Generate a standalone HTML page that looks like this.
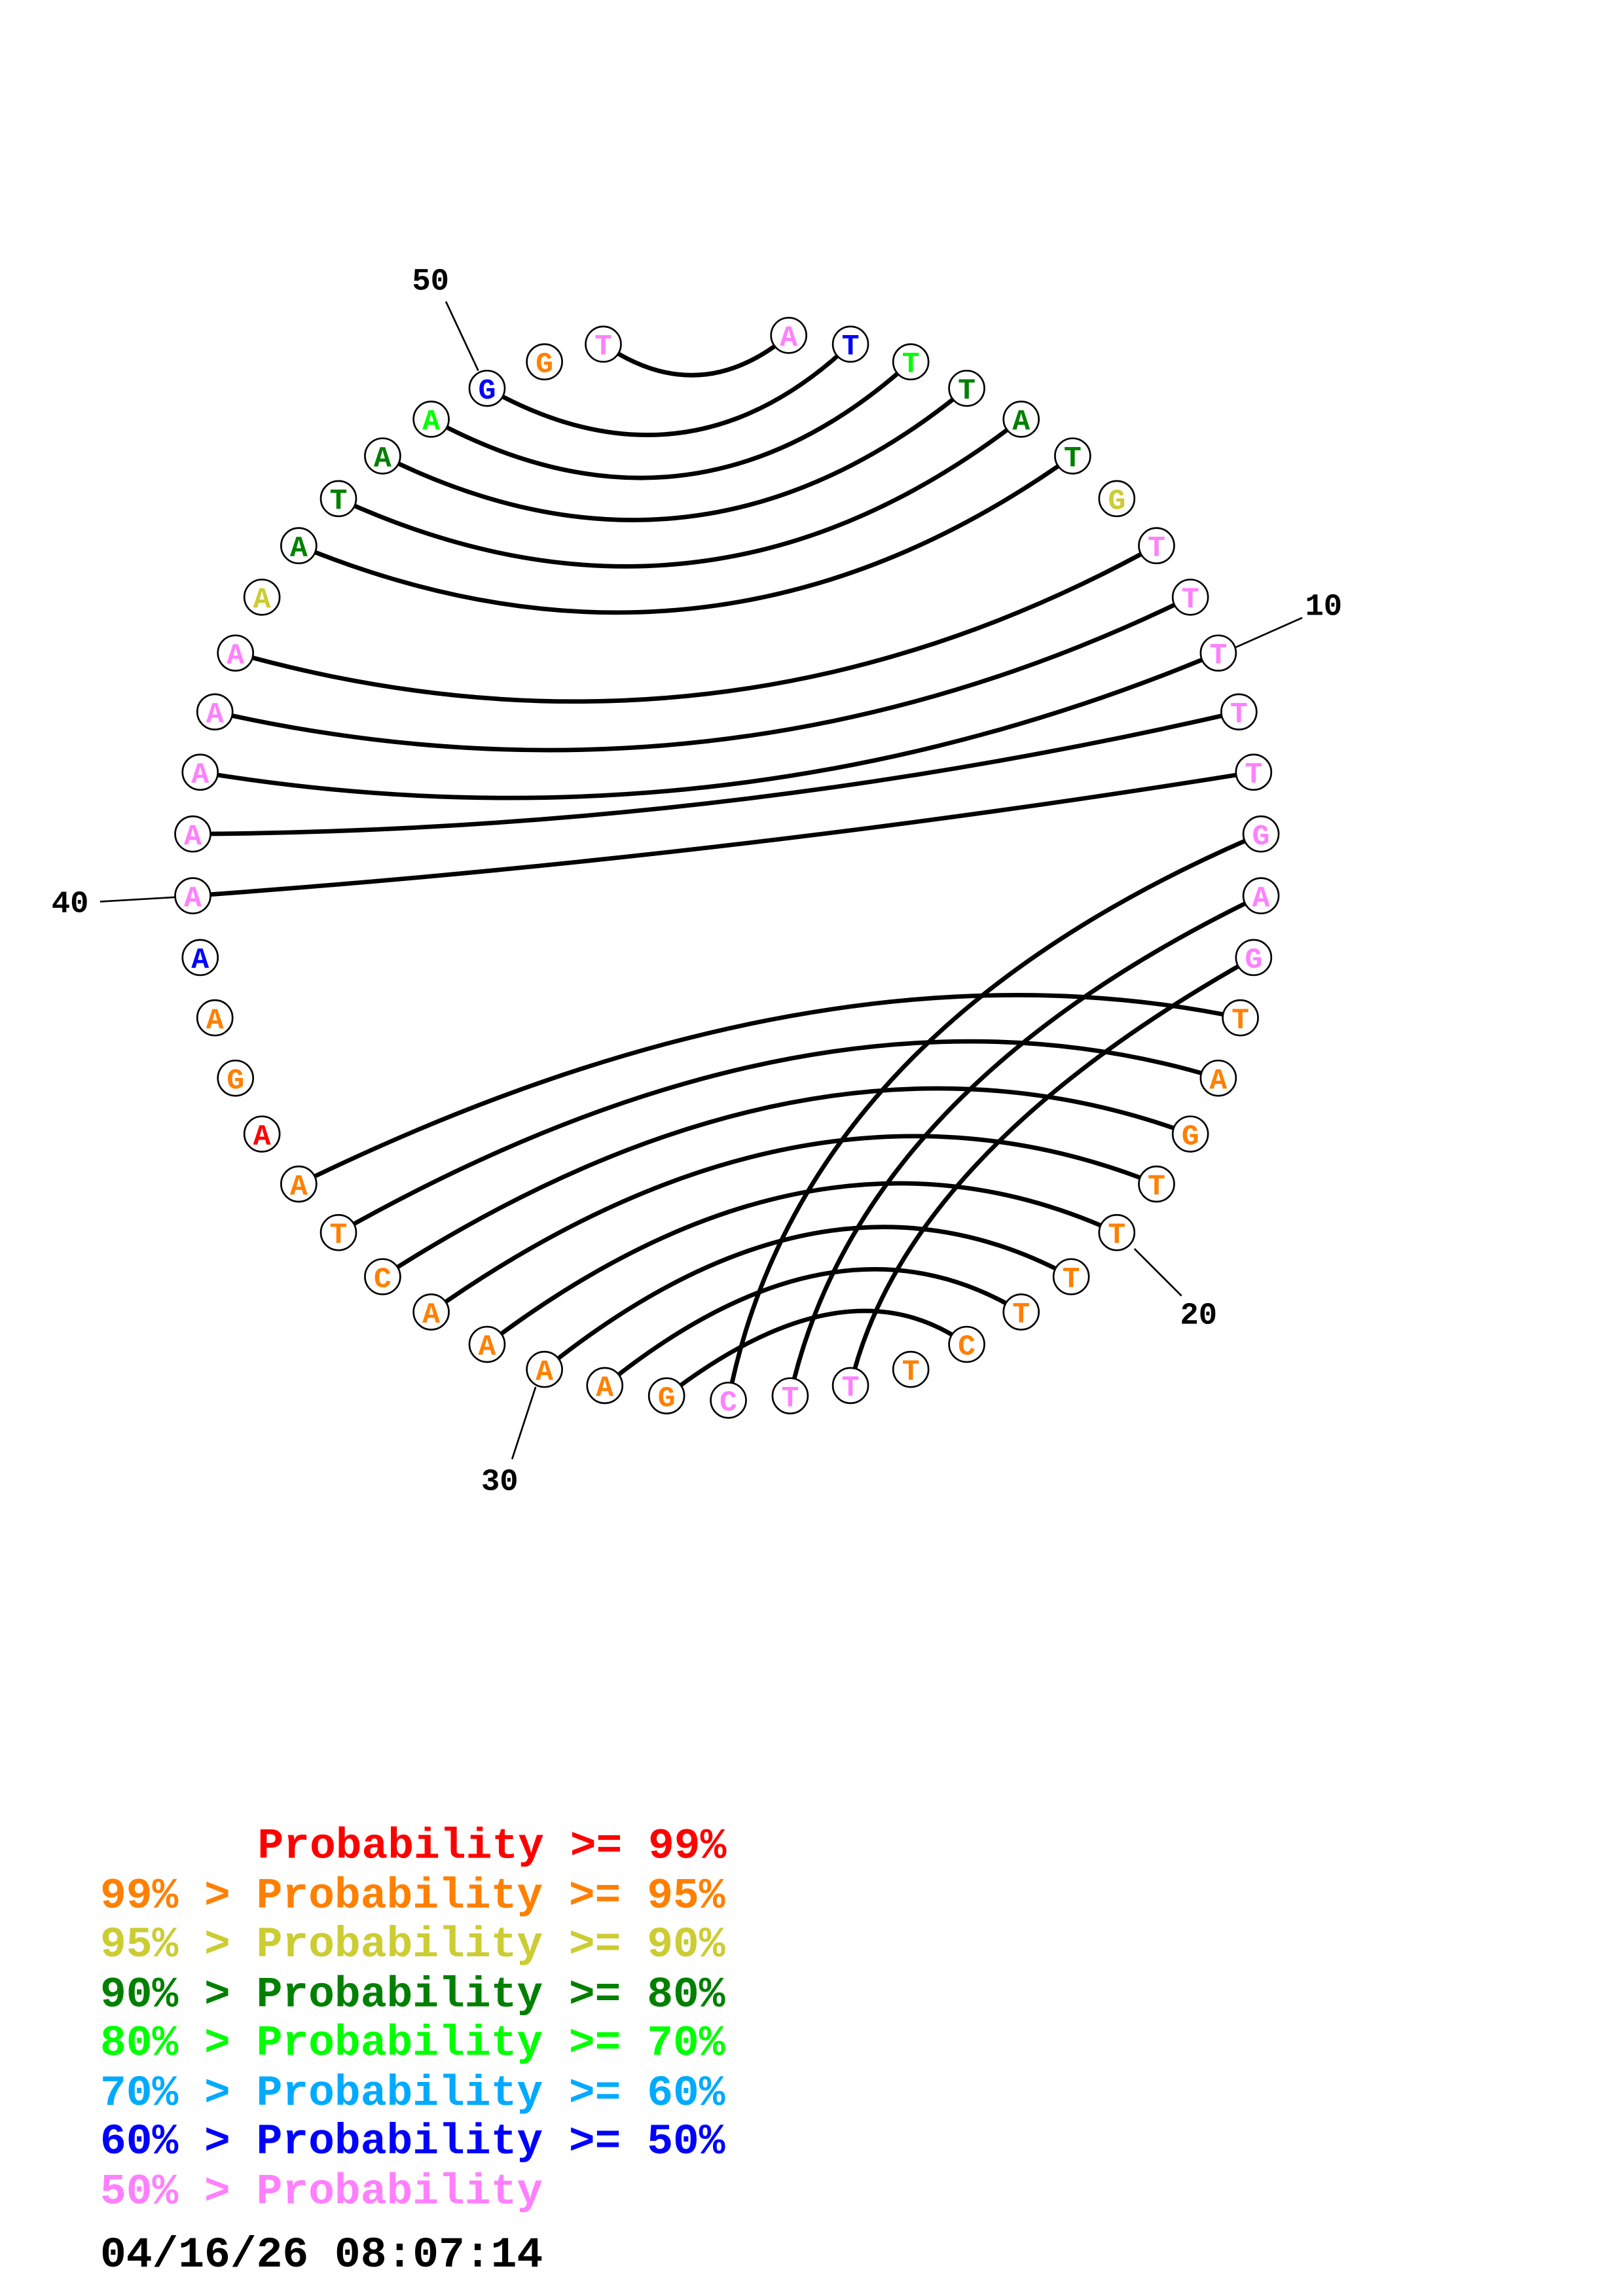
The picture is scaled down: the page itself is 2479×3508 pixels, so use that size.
<!DOCTYPE html>
<html><head><meta charset="utf-8"><style>html,body{margin:0;padding:0;background:#fff}svg{display:block}</style></head>
<body>
<svg width="2479" height="3508" viewBox="0 0 1103 1561" xmlns="http://www.w3.org/2000/svg">
<rect width="1103" height="1561" fill="#fff"/>
<g fill="none" stroke="#000" stroke-width="3">
<path d="M410,234 Q475,279 536,228"/>
<path d="M331,264 Q466,340 578,234"/>
<path d="M293,285 Q470,381 619,246"/>
<path d="M260,310 Q473,416 657,264"/>
<path d="M230,339 Q478,453 694,285"/>
<path d="M203,371 Q483,486 729,310"/>
<path d="M160,444 Q488,536 786,371"/>
<path d="M146,484 Q491,562 809,406"/>
<path d="M136,525 Q494,584 828,444"/>
<path d="M131,567 Q491,565 842,484"/>
<path d="M131,609 Q493,583 852,525"/>
<path d="M857,567 Q544,700 495,952"/>
<path d="M857,609 Q583,741 537,949"/>
<path d="M852,651 Q615,784 578,942"/>
<path d="M843,692 Q557,632 203,805"/>
<path d="M828,733 Q561,651 230,838"/>
<path d="M809,771 Q556,677 260,868"/>
<path d="M786,805 Q550,710 293,892"/>
<path d="M759,838 Q555,744 331,914"/>
<path d="M728,868 Q561,777 370,931"/>
<path d="M694,892 Q568,815 411,942"/>
<path d="M657,914 Q575,855 453,949"/>
</g>
<g stroke="#000" stroke-width="1.2">
<line x1="303" y1="205" x2="325" y2="252"/>
<line x1="885" y1="420" x2="840" y2="440"/>
<line x1="68" y1="613" x2="119" y2="610"/>
<line x1="803" y1="881" x2="771" y2="849"/>
<line x1="348" y1="992" x2="364" y2="943"/>
</g>
<g font-family="Liberation Mono, monospace" font-weight="bold" font-size="21" fill="#000">
<text x="280" y="197">50</text>
<text x="887" y="418">10</text>
<text x="35" y="620">40</text>
<text x="802" y="900">20</text>
<text x="327" y="1013">30</text>
</g>
<g font-family="Liberation Mono, monospace" font-weight="bold" font-size="20" text-anchor="middle">
<g stroke="#000" stroke-width="1.2" fill="#fff">
<circle cx="536" cy="228" r="12"/><circle cx="578" cy="234" r="12"/><circle cx="619" cy="246" r="12"/><circle cx="657" cy="264" r="12"/><circle cx="694" cy="285" r="12"/><circle cx="729" cy="310" r="12"/><circle cx="759" cy="339" r="12"/><circle cx="786" cy="371" r="12"/><circle cx="809" cy="406" r="12"/><circle cx="828" cy="444" r="12"/>
<circle cx="842" cy="484" r="12"/><circle cx="852" cy="525" r="12"/><circle cx="857" cy="567" r="12"/><circle cx="857" cy="609" r="12"/><circle cx="852" cy="651" r="12"/><circle cx="843" cy="692" r="12"/><circle cx="828" cy="733" r="12"/><circle cx="809" cy="771" r="12"/><circle cx="786" cy="805" r="12"/><circle cx="759" cy="838" r="12"/>
<circle cx="728" cy="868" r="12"/><circle cx="694" cy="892" r="12"/><circle cx="657" cy="914" r="12"/><circle cx="619" cy="931" r="12"/><circle cx="578" cy="942" r="12"/><circle cx="537" cy="949" r="12"/><circle cx="495" cy="952" r="12"/><circle cx="453" cy="949" r="12"/><circle cx="411" cy="942" r="12"/><circle cx="370" cy="931" r="12"/>
<circle cx="331" cy="914" r="12"/><circle cx="293" cy="892" r="12"/><circle cx="260" cy="868" r="12"/><circle cx="230" cy="838" r="12"/><circle cx="203" cy="805" r="12"/><circle cx="178" cy="771" r="12"/><circle cx="160" cy="733" r="12"/><circle cx="146" cy="692" r="12"/><circle cx="136" cy="651" r="12"/><circle cx="131" cy="609" r="12"/>
<circle cx="131" cy="567" r="12"/><circle cx="136" cy="525" r="12"/><circle cx="146" cy="484" r="12"/><circle cx="160" cy="444" r="12"/><circle cx="178" cy="406" r="12"/><circle cx="203" cy="371" r="12"/><circle cx="230" cy="339" r="12"/><circle cx="260" cy="310" r="12"/><circle cx="293" cy="285" r="12"/><circle cx="331" cy="264" r="12"/>
<circle cx="370" cy="246" r="12"/><circle cx="410" cy="234" r="12"/>
</g>
<text x="536" y="235" fill="#ff80ff">A</text><text x="578" y="241" fill="#0000ff">T</text><text x="619" y="253" fill="#00ff00">T</text><text x="657" y="271" fill="#008000">T</text><text x="694" y="292" fill="#008000">A</text><text x="729" y="317" fill="#008000">T</text><text x="759" y="346" fill="#cccc33">G</text><text x="786" y="378" fill="#ff80ff">T</text><text x="809" y="413" fill="#ff80ff">T</text><text x="828" y="451" fill="#ff80ff">T</text>
<text x="842" y="491" fill="#ff80ff">T</text><text x="852" y="532" fill="#ff80ff">T</text><text x="857" y="574" fill="#ff80ff">G</text><text x="857" y="616" fill="#ff80ff">A</text><text x="852" y="658" fill="#ff80ff">G</text><text x="843" y="699" fill="#ff8000">T</text><text x="828" y="740" fill="#ff8000">A</text><text x="809" y="778" fill="#ff8000">G</text><text x="786" y="812" fill="#ff8000">T</text><text x="759" y="845" fill="#ff8000">T</text>
<text x="728" y="875" fill="#ff8000">T</text><text x="694" y="899" fill="#ff8000">T</text><text x="657" y="921" fill="#ff8000">C</text><text x="619" y="938" fill="#ff8000">T</text><text x="578" y="949" fill="#ff80ff">T</text><text x="537" y="956" fill="#ff80ff">T</text><text x="495" y="959" fill="#ff80ff">C</text><text x="453" y="956" fill="#ff8000">G</text><text x="411" y="949" fill="#ff8000">A</text><text x="370" y="938" fill="#ff8000">A</text>
<text x="331" y="921" fill="#ff8000">A</text><text x="293" y="899" fill="#ff8000">A</text><text x="260" y="875" fill="#ff8000">C</text><text x="230" y="845" fill="#ff8000">T</text><text x="203" y="812" fill="#ff8000">A</text><text x="178" y="778" fill="#ff0000">A</text><text x="160" y="740" fill="#ff8000">G</text><text x="146" y="699" fill="#ff8000">A</text><text x="136" y="658" fill="#0000ff">A</text><text x="131" y="616" fill="#ff80ff">A</text>
<text x="131" y="574" fill="#ff80ff">A</text><text x="136" y="532" fill="#ff80ff">A</text><text x="146" y="491" fill="#ff80ff">A</text><text x="160" y="451" fill="#ff80ff">A</text><text x="178" y="413" fill="#cccc33">A</text><text x="203" y="378" fill="#008000">A</text><text x="230" y="346" fill="#008000">T</text><text x="260" y="317" fill="#008000">A</text><text x="293" y="292" fill="#00ff00">A</text><text x="331" y="271" fill="#0000ff">G</text>
<text x="370" y="253" fill="#ff8000">G</text><text x="410" y="241" fill="#ff80ff">T</text>
</g>
<g font-family="Liberation Mono, monospace" font-weight="bold" font-size="29.5" style="white-space:pre">
<text x="175" y="1263" fill="#ff0000">Probability &gt;= 99%</text>
<text x="68" y="1297" fill="#ff8000">99% &gt; Probability &gt;= 95%</text>
<text x="68" y="1330" fill="#cccc33">95% &gt; Probability &gt;= 90%</text>
<text x="68" y="1364" fill="#008000">90% &gt; Probability &gt;= 80%</text>
<text x="68" y="1397" fill="#00ff00">80% &gt; Probability &gt;= 70%</text>
<text x="68" y="1431" fill="#00aaff">70% &gt; Probability &gt;= 60%</text>
<text x="68" y="1464" fill="#0000ff">60% &gt; Probability &gt;= 50%</text>
<text x="68" y="1498" fill="#ff80ff">50% &gt; Probability</text>
<text x="68" y="1541" fill="#000">04/16/26 08:07:14</text>
</g>
</svg>
</body></html>
